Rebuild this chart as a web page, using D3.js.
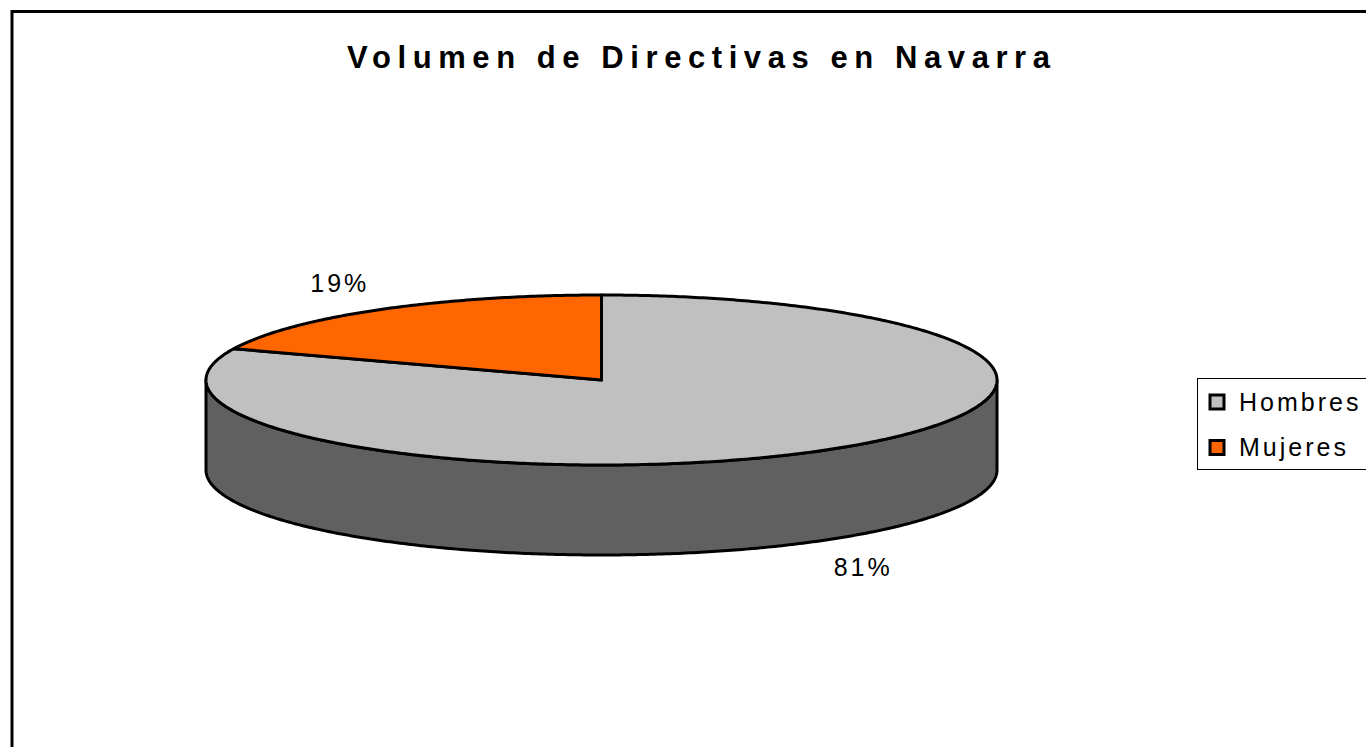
<!DOCTYPE html>
<html>
<head>
<meta charset="utf-8">
<script src="https://cdn.jsdelivr.net/npm/d3@7/dist/d3.min.js"></script>
<style>
  body { margin: 0; background: #fff; }
  svg { display: block; }
</style>
</head>
<body>
<div id="chart"></div>
<script>
const title = 'Volumen de Directivas en Navarra';
const categories = ['Hombres', 'Mujeres'];
const values = [81, 19];
const labels = ['81%', '19%'];

const width = 1366, height = 747;
const font = '"Liberation Sans", Arial, sans-serif';

const color = d3.scaleOrdinal().domain(categories).range(['#C0C0C0', '#FF6600']);
const sideColor = d3.scaleOrdinal().domain(categories).range(['#606060', '#803300']);

const svg = d3.select('#chart').append('svg').attr('width', width).attr('height', height);

// outer chart frame (runs off the right and bottom of the window)
svg.append('rect')
  .attr('x', 12).attr('y', 11.5).attr('width', 1400).attr('height', 800)
  .attr('fill', '#fff').attr('stroke', '#000').attr('stroke-width', 3);

svg.append('text')
  .attr('x', 347).attr('y', 68)
  .attr('font-family', font).attr('font-size', 31).attr('font-weight', 'bold')
  .attr('textLength', 703).attr('lengthAdjust', 'spacing')
  .text(title);

// 3d pie geometry
const cx = 601.5, cy = 380, rx = 395.5, ry = 85, depth = 90;
const pt = a => [cx + rx * Math.sin(a), cy - ry * Math.cos(a)];

const arcs = d3.pie().sort(null).value(d => d.value)(categories.map((c, i) => ({ name: c, value: values[i], label: labels[i] })));

const arcPoints = (a0, a1, dy = 0) => {
  const n = Math.max(2, Math.ceil((a1 - a0) / 0.01));
  return d3.range(n + 1).map(i => {
    const p = pt(a0 + (a1 - a0) * i / n);
    return [p[0], p[1] + dy];
  });
};
const line = d3.line();

const g = svg.append('g');

// visible side wall (front half: pi/2 .. 3pi/2)
arcs.forEach(d => {
  const s = Math.max(d.startAngle, Math.PI / 2), e = Math.min(d.endAngle, 3 * Math.PI / 2);
  if (e <= s) return;
  const pts = arcPoints(s, e).concat(arcPoints(s, e, depth).reverse());
  g.append('path').attr('d', line(pts) + 'Z')
    .attr('fill', sideColor(d.data.name)).attr('stroke', '#000').attr('stroke-width', 3)
    .attr('stroke-linejoin', 'round');
});

// top face
arcs.forEach(d => {
  const pts = [[cx, cy]].concat(arcPoints(d.startAngle, d.endAngle));
  g.append('path').attr('d', line(pts) + 'Z')
    .attr('fill', color(d.data.name)).attr('stroke', '#000').attr('stroke-width', 3)
    .attr('stroke-linejoin', 'round');
});

// percentage labels
arcs.forEach(d => {
  const a = (d.startAngle + d.endAngle) / 2;
  const x = cx + (rx + 70) * Math.sin(a);
  let y = cy - (ry + 32) * Math.cos(a);
  if (Math.cos(a) < 0) y += depth;
  g.append('text')
    .attr('x', x).attr('y', y)
    .attr('text-anchor', 'middle').attr('dominant-baseline', 'central')
    .attr('font-family', font).attr('font-size', 25).attr('letter-spacing', 3)
    .text(d.data.label);
});

// legend
const legend = svg.append('g');
legend.append('rect')
  .attr('x', 1197.5).attr('y', 378.5).attr('width', 220).attr('height', 91)
  .attr('fill', '#fff').attr('stroke', '#000').attr('stroke-width', 1);

const ly = d3.scalePoint().domain(categories).range([402, 447.5]);
categories.forEach(c => {
  legend.append('rect')
    .attr('x', 1210).attr('y', ly(c) - 7).attr('width', 14).attr('height', 14)
    .attr('fill', color(c)).attr('stroke', '#000').attr('stroke-width', 3);
  legend.append('text')
    .attr('x', 1239).attr('y', ly(c) + 8.5)
    .attr('font-family', font).attr('font-size', 25).attr('letter-spacing', 3)
    .text(c);
});
</script>
</body>
</html>
